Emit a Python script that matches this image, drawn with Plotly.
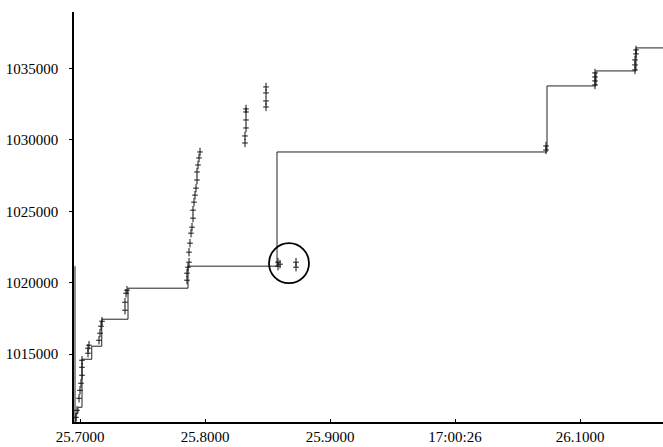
import plotly.graph_objects as go

# Step series (hv step), data units
step_x = [25.6964, 25.6968, 25.6984, 25.7016, 25.7094, 25.7174, 25.7384,
          25.7864, 25.8576, 26.0736, 26.1128, 26.1448, 26.1664]
step_y = [1010300, 1010870, 1011290, 1014650, 1015560, 1017450, 1019620,
          1021160, 1029150, 1033770, 1034820, 1036430, 1036430]

# Initial vertical trace along the left edge
edge_x = [25.6960, 25.6960]
edge_y = [1010260, 1021160]

# Observed points
pts_x = [25.6968, 25.6976, 25.6992, 25.7000, 25.7008, 25.7016, 25.7016, 25.7016,
         25.7064, 25.7064, 25.7072, 25.7152, 25.7160, 25.7168, 25.7176,
         25.7360, 25.7360, 25.7368, 25.7376, 25.7856, 25.7856, 25.7864,
         25.7872, 25.7872, 25.7880, 25.7888, 25.7896, 25.7904, 25.7904, 25.7912,
         25.7920, 25.7928, 25.7936, 25.7936, 25.7944, 25.7952, 25.7960,
         25.8320, 25.8320, 25.8328, 25.8328, 25.8328, 25.8328,
         25.8488, 25.8488, 25.8488, 25.8488,
         25.8584, 25.8584, 25.8600, 25.8728, 25.8728,
         26.0728, 26.0728,
         26.1120, 26.1120, 26.1120, 26.1120,
         26.1440, 26.1440, 26.1440, 26.1448, 26.1448]
pts_y = [1010588, 1011078, 1011919, 1012479, 1012969, 1013529, 1014090, 1014580,
         1015070, 1015420, 1015630, 1015980, 1016470, 1016960, 1017310,
         1018080, 1018640, 1019270, 1019480, 1020180, 1020670, 1021090,
         1021440, 1022140, 1022770, 1023470, 1023890, 1024520, 1025080, 1025640,
         1026130, 1026620, 1027190, 1027750, 1028240, 1028730, 1029150,
         1029780, 1030270, 1030830, 1031390, 1031950, 1032160,
         1032300, 1032720, 1033280, 1033700,
         1021440, 1021160, 1021300, 1021440, 1021090,
         1029290, 1029570,
         1033840, 1034120, 1034400, 1034680,
         1034890, 1035240, 1035590, 1036010, 1036290]

# Tick labels
x_tickvals = [25.7, 25.8, 25.9, 26.0, 26.1]
x_ticktext = ["25.7000", "25.8000", "25.9000", "17:00:26", "26.1000"]
y_tickvals = [1015000, 1020000, 1025000, 1030000, 1035000]
y_ticktext = ["1015000", "1020000", "1025000", "1030000", "1035000"]

# Highlight circle (center, radii in data units)
circ_cx, circ_cy = 25.8672, 1021370
circ_rx, circ_ry = 0.016, 1400

x_range = [25.6952, 26.1664]
y_range = [1010259, 1038943]

fig = go.Figure()
fig.add_trace(go.Scatter(x=edge_x, y=edge_y, mode="lines",
                         line=dict(color="#222", width=1), showlegend=False))
fig.add_trace(go.Scatter(x=step_x, y=step_y, mode="lines", line_shape="hv",
                         line=dict(color="#222", width=1), showlegend=False))
fig.add_trace(go.Scatter(x=pts_x, y=pts_y, mode="markers",
                         marker=dict(symbol="line-ns", size=6,
                                     line=dict(color="#111", width=1)),
                         showlegend=False))
fig.add_trace(go.Scatter(x=pts_x, y=pts_y, mode="markers",
                         marker=dict(symbol="line-ew", size=4,
                                     line=dict(color="#111", width=1)),
                         showlegend=False))

fig.add_shape(type="circle", xref="x", yref="y",
              x0=circ_cx - circ_rx, x1=circ_cx + circ_rx,
              y0=circ_cy - circ_ry, y1=circ_cy + circ_ry,
              line=dict(color="black", width=1.8))

font = dict(family="Liberation Serif, Times New Roman, serif", size=15, color="black")
fig.update_layout(
    width=663, height=447,
    margin=dict(l=74, r=0, t=12, b=25),
    paper_bgcolor="white", plot_bgcolor="white",
    font=font,
    xaxis=dict(range=x_range, tickvals=x_tickvals, ticktext=x_ticktext,
               showgrid=False, zeroline=False, showline=True,
               linecolor="black", linewidth=1.5,
               ticks="inside", ticklen=3, tickcolor="black"),
    yaxis=dict(range=y_range, tickvals=y_tickvals, ticktext=y_ticktext,
               showgrid=False, zeroline=False, showline=True,
               linecolor="black", linewidth=1.5,
               ticks="outside", ticklen=3, tickcolor="black",
               ticklabelstandoff=8),
)
fig.write_html("out.html")
